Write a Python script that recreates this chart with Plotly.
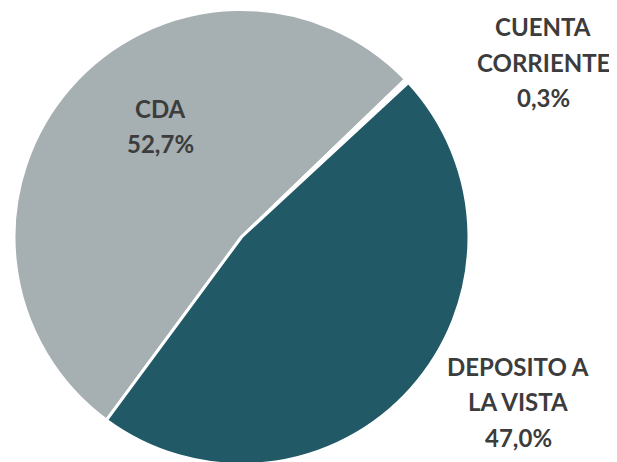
import plotly.graph_objects as go

categories = ["CDA", "CUENTA CORRIENTE", "DEPOSITO A LA VISTA"]
label_lines = [["CDA"], ["CUENTA", "CORRIENTE"], ["DEPOSITO A", "LA VISTA"]]
values = [52.7, 0.3, 47.0]
colors = ["#A6AFB1", "#FFFFFF", "#215A66"]

W, H = 617, 462
OFF = 8  # page body margin offset in the screenshot
# position of first text line (screen pixels) for each category label
label_first = [(160, 107), (543, 26), (518, 365)]
LINE = 35.5

cx, cy, r = 241.5, 237.0, 227.5
fx, fy = cx - OFF, cy - OFF

fig = go.Figure(go.Pie(
    labels=categories,
    values=values,
    sort=False,
    direction="clockwise",
    rotation=216.4,
    marker=dict(colors=colors, line=dict(color="#FFFFFF", width=3)),
    textinfo="none",
    hoverinfo="label+percent",
    showlegend=False,
    domain=dict(x=[(fx - r) / W, (fx + r) / W],
                y=[1 - (fy + r) / H, 1 - (fy - r) / H]),
))

for lines, val, (px, py) in zip(label_lines, values, label_first):
    all_lines = lines + [f"{val:.1f}%".replace(".", ",")]
    for i, ln in enumerate(all_lines):
        sx, sy = px - OFF, py + i * LINE - OFF + 1
        fig.add_annotation(
            x=sx / W, y=1 - sy / H, xref="paper", yref="paper",
            text=f"<b>{ln}</b>", showarrow=False,
            xanchor="center", yanchor="middle",
            font=dict(family="Lato, Open Sans, sans-serif", size=24, color="#3C3C3C"),
        )

fig.update_layout(
    width=W, height=H,
    margin=dict(l=0, r=0, t=0, b=0),
    paper_bgcolor="white", plot_bgcolor="white",
)
fig.write_html("out.html")
